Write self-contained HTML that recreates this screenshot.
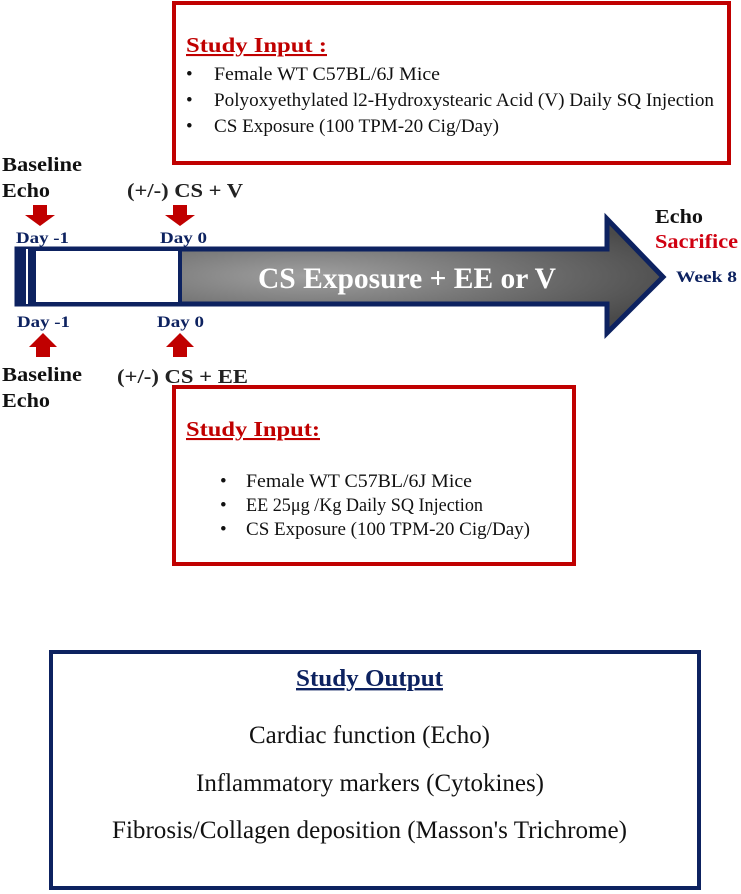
<!DOCTYPE html>
<html><head><meta charset="utf-8"><style>
html,body{margin:0;padding:0;background:#fff;}
svg{display:block;}
text{font-family:"Liberation Serif",serif;}
</style></head><body>
<svg width="741" height="894" viewBox="0 0 741 894" xmlns="http://www.w3.org/2000/svg">
<defs>
<radialGradient id="g" cx="0.45" cy="0.5" r="0.6">
<stop offset="0" stop-color="#a0a0a0"/><stop offset="1" stop-color="#4a4a4a"/>
</radialGradient>
</defs>
<!-- top box -->
<rect x="174" y="3" width="555" height="160" fill="#fff" stroke="#c00000" stroke-width="4"/>
<text x="186" y="52" font-size="21" font-weight="bold" fill="#c00000" text-decoration="underline" textLength="141" lengthAdjust="spacingAndGlyphs">Study Input :</text>
<g font-size="19" fill="#111">
<text x="186" y="80">•</text><text x="214" y="80" textLength="226" lengthAdjust="spacingAndGlyphs">Female WT C57BL/6J Mice</text>
<text x="186" y="106">•</text><text x="214" y="106" textLength="500" lengthAdjust="spacingAndGlyphs">Polyoxyethylated l2-Hydroxystearic Acid (V) Daily SQ Injection</text>
<text x="186" y="132">•</text><text x="214" y="132" textLength="285" lengthAdjust="spacingAndGlyphs">CS Exposure (100 TPM-20 Cig/Day)</text>
</g>
<!-- arrow -->
<path d="M17 249 H607 V219 L663 277 L607 333 V304 H17 Z" fill="url(#g)" stroke="#0d2260" stroke-width="5" stroke-linejoin="miter"/>
<rect x="17" y="249" width="9" height="55" fill="#0d2260"/>
<rect x="26" y="249" width="2" height="55" fill="#fff"/>
<rect x="28" y="249" width="8" height="55" fill="#0d2260"/>
<rect x="36" y="251" width="142" height="51" fill="#fff"/>
<rect x="178" y="249" width="4" height="55" fill="#0d2260"/>
<text x="258" y="288" font-size="30" font-weight="bold" fill="#fff" textLength="298" lengthAdjust="spacingAndGlyphs">CS Exposure + EE or V</text>
<!-- labels -->
<g font-weight="bold" fill="#111" font-size="20">
<text x="2" y="171" textLength="80" lengthAdjust="spacingAndGlyphs">Baseline</text><text x="2" y="197" textLength="48" lengthAdjust="spacingAndGlyphs">Echo</text>
<text x="2" y="381" textLength="80" lengthAdjust="spacingAndGlyphs">Baseline</text><text x="2" y="407" textLength="48" lengthAdjust="spacingAndGlyphs">Echo</text>
</g>
<text x="127" y="197" font-size="20" font-weight="bold" fill="#222" textLength="116" lengthAdjust="spacingAndGlyphs">(+/-) CS + V</text>
<text x="117" y="383" font-size="20" font-weight="bold" fill="#222" textLength="131" lengthAdjust="spacingAndGlyphs">(+/-) CS + EE</text>
<g font-size="16" font-weight="bold" fill="#0d2260">
<text x="16" y="243" textLength="53" lengthAdjust="spacingAndGlyphs">Day -1</text><text x="160" y="243" textLength="47" lengthAdjust="spacingAndGlyphs">Day 0</text>
<text x="17" y="327" textLength="53" lengthAdjust="spacingAndGlyphs">Day -1</text><text x="157" y="327" textLength="47" lengthAdjust="spacingAndGlyphs">Day 0</text>
<text x="676" y="282" textLength="61" lengthAdjust="spacingAndGlyphs">Week 8</text>
</g>
<text x="655" y="223" font-size="20" font-weight="bold" fill="#111" textLength="48" lengthAdjust="spacingAndGlyphs">Echo</text>
<text x="655" y="248" font-size="20" font-weight="bold" fill="#d00010" textLength="83" lengthAdjust="spacingAndGlyphs">Sacrifice</text>
<!-- red arrows -->
<g fill="#c00000">
<path d="M33 205 H47 V215 H55 L40 226 L25 215 H33 Z"/>
<path d="M173 205 H187 V215 H195 L180 226 L165 215 H173 Z"/>
<path d="M36 357 H50 V347 H57 L43 333 L29 347 H36 Z"/>
<path d="M173 357 H187 V347 H194 L180 333 L166 347 H173 Z"/>
</g>
<!-- bottom red box -->
<rect x="174" y="387" width="400" height="177" fill="#fff" stroke="#c00000" stroke-width="4"/>
<text x="186" y="436" font-size="21" font-weight="bold" fill="#c00000" text-decoration="underline" textLength="134" lengthAdjust="spacingAndGlyphs">Study Input:</text>
<g font-size="19" fill="#111">
<text x="220" y="487">•</text><text x="246" y="487" textLength="226" lengthAdjust="spacingAndGlyphs">Female WT C57BL/6J Mice</text>
<text x="220" y="511">•</text><text x="246" y="511" textLength="237" lengthAdjust="spacingAndGlyphs">EE 25μg /Kg Daily SQ Injection</text>
<text x="220" y="535">•</text><text x="246" y="535" textLength="284" lengthAdjust="spacingAndGlyphs">CS Exposure (100 TPM-20 Cig/Day)</text>
</g>
<!-- output box -->
<rect x="51" y="652" width="648" height="236" fill="#fff" stroke="#0d2260" stroke-width="4"/>
<text x="296" y="686" font-size="24" font-weight="bold" fill="#0d2260" text-decoration="underline" textLength="147" lengthAdjust="spacingAndGlyphs">Study Output</text>
<g font-size="25" fill="#111">
<text x="249" y="743" textLength="241" lengthAdjust="spacingAndGlyphs">Cardiac function (Echo)</text>
<text x="196" y="791" textLength="348" lengthAdjust="spacingAndGlyphs">Inflammatory markers (Cytokines)</text>
<text x="112" y="838" textLength="515" lengthAdjust="spacingAndGlyphs">Fibrosis/Collagen deposition (Masson's Trichrome)</text>
</g>
</svg>
</body></html>
